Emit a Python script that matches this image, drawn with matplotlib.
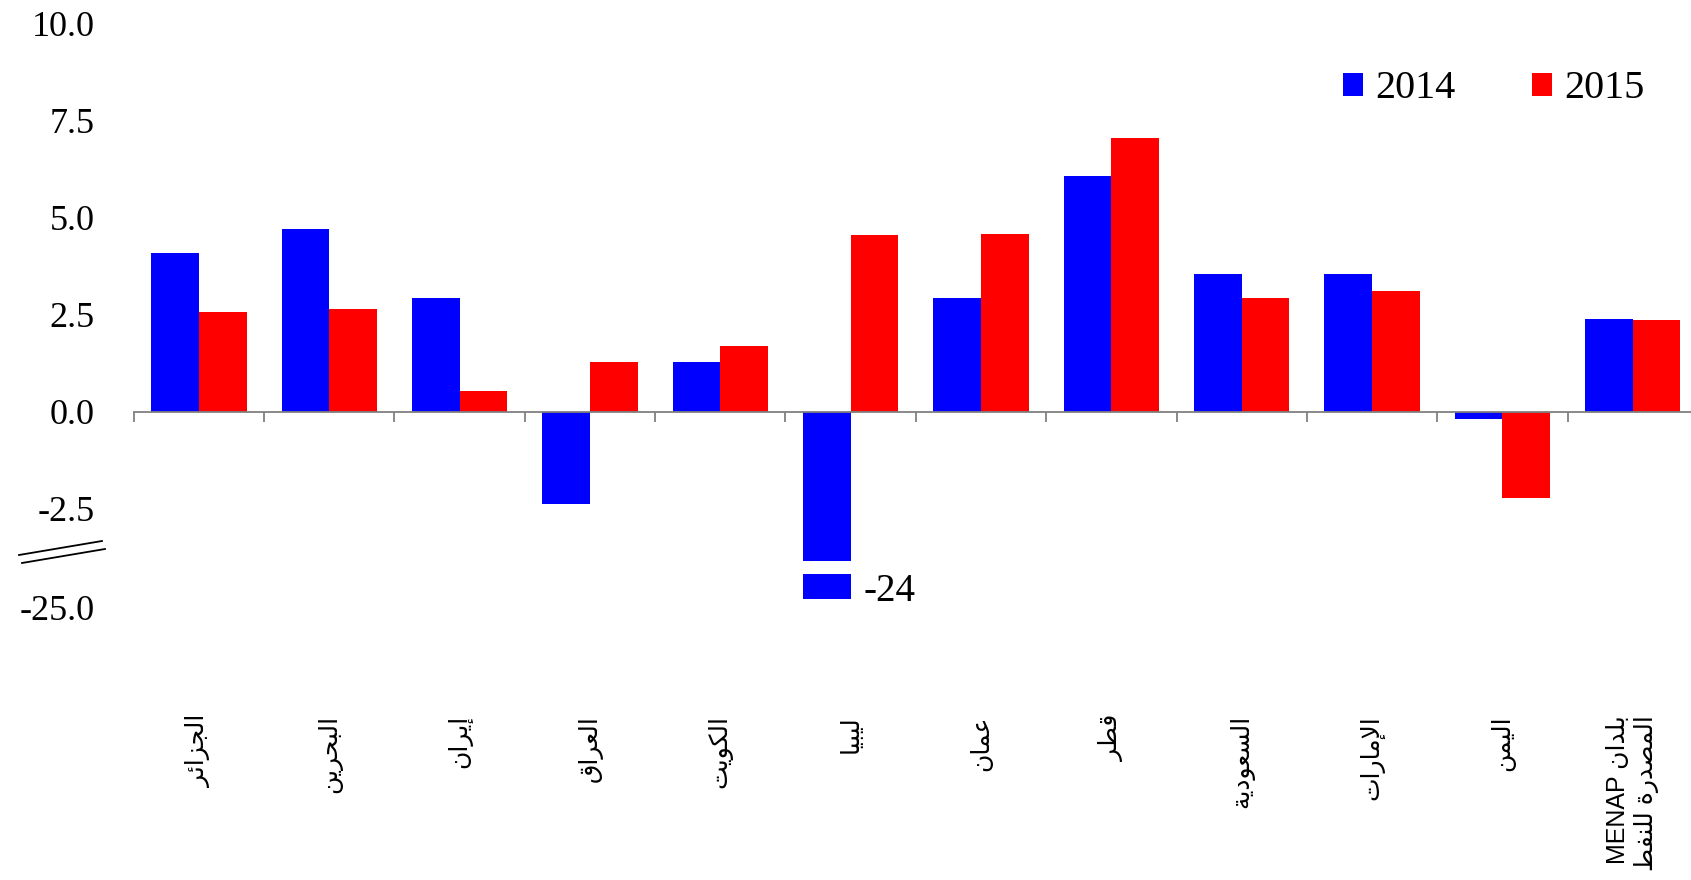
import matplotlib
matplotlib.use('Agg')
import matplotlib.pyplot as plt
import matplotlib.transforms as mtransforms
from matplotlib.lines import Line2D
import numpy as np

# data (real GDP growth, %)
countries = ['الجزائر', 'البحرين', 'إيران', 'العراق', 'الكويت', 'ليبيا', 'عمان',
             'قطر', 'السعودية', 'الإمارات', 'اليمن', 'بلدان MENAP\nالمصدرة للنفط']
growth_2014 = [4.08, 4.72, 2.94, -2.39, 1.28, -24.0, 2.92, 6.08, 3.56, 3.56, -0.19, 2.39]
growth_2015 = [2.56, 2.64, 0.53, 1.28, 1.69, 4.56, 4.58, 7.06, 2.94, 3.11, -2.22, 2.36]
series_names = ['2014', '2015']
upper_ticks = [-2.5, 0.0, 2.5, 5.0, 7.5, 10.0]
lower_ticks = [-25.0]
libya_label = '-24'

# matplotlib has no Arabic shaping: pick presentation forms and put them in visual order
_letters = 'ءآأؤإئابةتثجحخدذرزسشصضطظعغفقكلمنهوىي'
_nforms = [1, 2, 2, 2, 2, 4, 2, 4, 2, 4, 4, 4, 4, 4, 2, 2, 2, 2, 4, 4,
           4, 4, 4, 4, 4, 4, 4, 4, 4, 4, 4, 4, 4, 2, 2, 4]
FORMS = {}
code = 0xFE80
for ch, n in zip(_letters, _nforms):
    FORMS[ch] = [chr(code + k) for k in range(n)]
    code += n
LAM_ALEF = {'آ': 0xFEF5, 'أ': 0xFEF7, 'إ': 0xFEF9, 'ا': 0xFEFB}


def shape(word):
    out = []
    i = 0
    while i < len(word):
        c = word[i]
        if c not in FORMS:
            out.append(c)
            i += 1
            continue
        prev = word[i - 1] if i > 0 else None
        joins_prev = prev in FORMS and len(FORMS[prev]) == 4 and len(FORMS[c]) > 1
        if c == 'ل' and i + 1 < len(word) and word[i + 1] in LAM_ALEF:
            out.append(chr(LAM_ALEF[word[i + 1]] + int(joins_prev)))
            i += 2
            continue
        nxt = word[i + 1] if i + 1 < len(word) else None
        joins_next = len(FORMS[c]) == 4 and nxt in FORMS and nxt != 'ء'
        idx = 0 if len(FORMS[c]) == 1 else int(joins_prev) + 2 * int(joins_next)
        out.append(FORMS[c][idx])
        i += 1
    return ''.join(out)


def visual(text):
    lines = []
    for line in text.split('\n'):
        toks = []
        for t in reversed(line.split(' ')):
            if any(ch in FORMS for ch in t):
                toks.append(shape(t)[::-1])
            else:
                toks.append(t)
        lines.append(' '.join(toks))
    return '\n'.join(lines)


fig = plt.figure(figsize=(16.91, 8.8), dpi=100)
ax = fig.add_axes([0.0791, 0.3625, 0.925, 0.6105])
ax_low = fig.add_axes([0.0791, 1 - 608 / 880, 0.925, 34 / 880])

x = np.arange(len(countries))
w = 0.365
serif = 'Liberation Serif'

for a in (ax, ax_low):
    b1 = a.bar(x - w / 2, growth_2014, w, color='#0000FF', label=series_names[0])
    b2 = a.bar(x + w / 2, growth_2015, w, color='#FF0000', label=series_names[1])
    a.set_xlim(-0.5, len(countries) - 0.5)
    for s in ['top', 'right', 'left', 'bottom']:
        a.spines[s].set_visible(False)
    a.tick_params(axis='y', length=0, pad=28, labelsize=26)
    a.patch.set_alpha(0)

ax.set_ylim(-3.85, 10.0)
ax.set_yticks(upper_ticks)
ax.set_yticklabels([f'{v:.1f}' for v in upper_ticks], fontfamily=serif, fontsize=26)
ax.spines['bottom'].set_visible(True)
ax.spines['bottom'].set_position(('data', 0))
ax.spines['bottom'].set_color('#808080')
ax.spines['bottom'].set_linewidth(1.3)
ax.set_xticks(np.arange(-0.5, len(countries), 1.0))
ax.tick_params(axis='x', direction='out', length=7, width=1.3, color='#808080',
               labelbottom=False)

ax_low.set_ylim(-25.1, -21.0)
ax_low.set_yticks(lower_ticks)
ax_low.set_yticklabels([f'{v:.1f}' for v in lower_ticks], fontfamily=serif, fontsize=26)
ax_low.set_xticks([])

# value label for the broken bar
ax_low.annotate(libya_label, xy=(countries.index('ليبيا'), 0.5),
                xycoords=mtransforms.blended_transform_factory(ax_low.transData, ax_low.transAxes),
                xytext=(9, 0), textcoords='offset points', va='center', ha='left',
                fontsize=28, fontfamily=serif)

# category labels
trans = mtransforms.blended_transform_factory(ax.transData, fig.transFigure)
for i, c in enumerate(countries):
    ax.text(i, 1 - 715 / 880, visual(c), transform=trans, rotation=90,
            ha='center', va='top', multialignment='right', fontsize=18,
            family=['Liberation Sans', 'DejaVu Sans'])

# axis break marks
fig.add_artist(Line2D([19 / 1691, 102 / 1691], [1 - 555 / 880, 1 - 541 / 880], color='black', lw=1.3))
fig.add_artist(Line2D([22 / 1691, 105 / 1691], [1 - 563 / 880, 1 - 549 / 880], color='black', lw=1.3))

fig.legend(handles=[b1, b2], loc='center left', bbox_to_anchor=(1343 / 1691, 1 - 89 / 880),
           ncol=2, frameon=False, prop={'family': serif, 'size': 29},
           handlelength=0.5, handleheight=0.5, handletextpad=0.3, columnspacing=1.9,
           borderpad=0, borderaxespad=0)

fig.savefig('out.png', dpi=100)
